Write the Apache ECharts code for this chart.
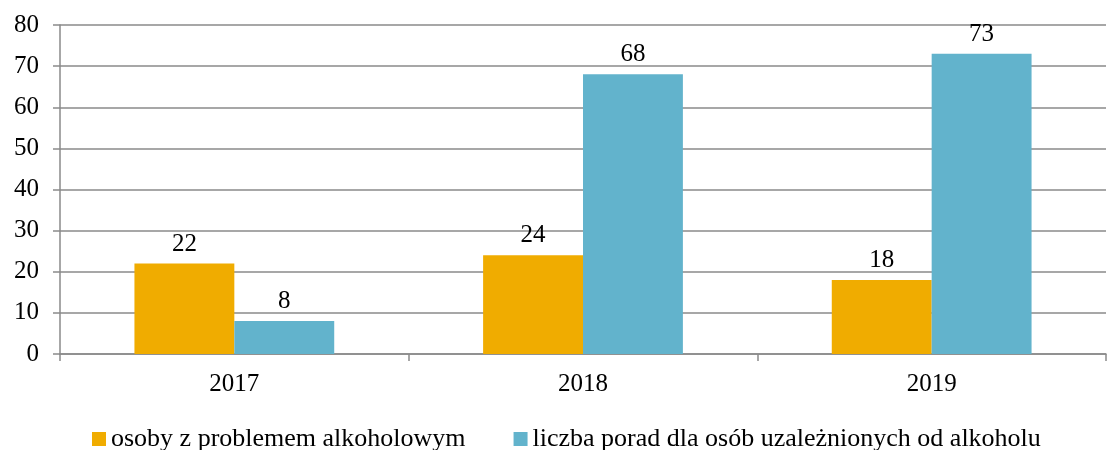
<!DOCTYPE html>
<html>
<head>
<meta charset="utf-8">
<script src="https://cdn.jsdelivr.net/npm/echarts@6/dist/echarts.min.js"></script>
<style>
  html, body { margin: 0; padding: 0; background: #fff; }
  #chart { width: 1107px; height: 450px; }
</style>
</head>
<body>
<div id="chart"></div>
<script>
    var years = ['2017', '2018', '2019'];
    var osoby = [22, 24, 18];
    var porady = [8, 68, 73];
    var seriesNames = ['osoby z problemem alkoholowym', 'liczba porad dla osób uzależnionych od alkoholu'];

    var font = '"Liberation Serif", "Times New Roman", serif';
    var fs = 25;
    var myChart = echarts.init(document.getElementById('chart'));

    var option = {
        animation: false,
        textStyle: { fontFamily: font },
        grid: { left: 60, right: 1, top: 25, bottom: 96 },
        legend: {
            top: 421,
            left: 87,
            itemWidth: 14,
            itemHeight: 14,
            itemGap: 48,
            icon: 'rect',
            textStyle: { fontFamily: font, fontSize: 26, color: '#000' },
            data: seriesNames
        },
        xAxis: {
            type: 'category',
            data: years,
            axisLine: { lineStyle: { color: '#8a8a8a', width: 1.5 } },
            axisTick: { show: true, length: 7, lineStyle: { color: '#8a8a8a', width: 1.5 } },
            axisLabel: { fontFamily: font, fontSize: fs, color: '#000', margin: 18 }
        },
        yAxis: {
            type: 'value',
            min: 0,
            max: 80,
            interval: 10,
            axisLine: { show: true, lineStyle: { color: '#8a8a8a', width: 1.5 } },
            axisTick: { show: true, length: 7, lineStyle: { color: '#8a8a8a', width: 1.5 } },
            splitLine: { lineStyle: { color: '#8a8a8a', width: 1.5 } },
            axisLabel: { fontFamily: font, fontSize: fs, color: '#000', margin: 21 }
        },
        series: [
            {
                name: seriesNames[0],
                type: 'bar',
                data: osoby,
                barGap: '0%',
                barCategoryGap: '42.7%',
                itemStyle: { color: '#f0ac00' },
                label: { show: true, position: 'top', fontFamily: font, fontSize: fs, color: '#000', distance: 7 }
            },
            {
                name: seriesNames[1],
                type: 'bar',
                data: porady,
                barGap: '0%',
                barCategoryGap: '42.7%',
                itemStyle: { color: '#62b3cc' },
                label: { show: true, position: 'top', fontFamily: font, fontSize: fs, color: '#000', distance: 7 }
            }
        ]
    };

    myChart.setOption(option);
</script>
</body>
</html>
